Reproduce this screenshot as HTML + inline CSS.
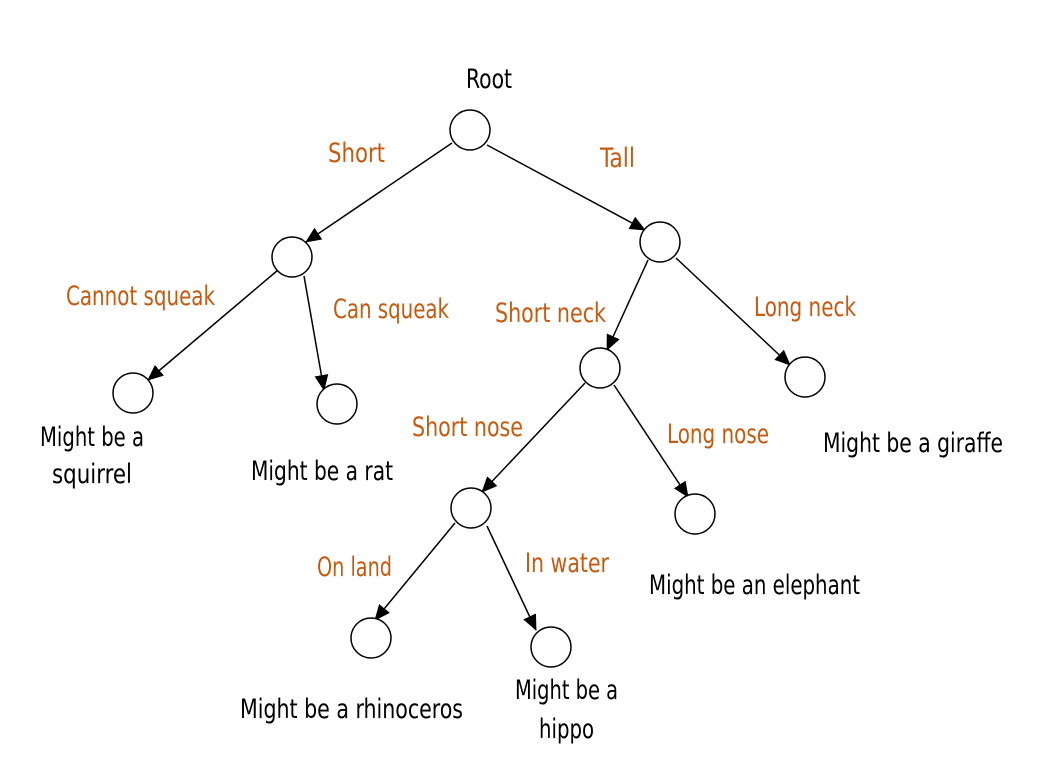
<!DOCTYPE html>
<html><head><meta charset="utf-8"><style>
html,body{margin:0;padding:0;background:#fff;}
svg{display:block;}
text{font-family:"Liberation Sans Narrow","DejaVu Sans Condensed","Liberation Sans",sans-serif;font-size:27px;}
.o{fill:#C55A11;}
.b{fill:#000;}
</style></head><body>
<svg width="1042" height="784" viewBox="0 0 1042 784" xmlns="http://www.w3.org/2000/svg">
<defs><marker id="a" markerWidth="10" markerHeight="10" refX="9" refY="5" orient="auto" markerUnits="userSpaceOnUse" viewBox="0 0 10 10"><path d="M0,0 L10,5 L0,10 z" fill="#000"/></marker>
<marker id="ah" markerWidth="16" markerHeight="14" refX="15" refY="7" orient="auto" markerUnits="userSpaceOnUse" viewBox="0 0 16 14"><path d="M0,0 L16,7 L0,14 z" fill="#000"/></marker></defs>
<g stroke="#000" stroke-width="1.5" fill="none">
<line x1="452" y1="143" x2="306" y2="242" marker-end="url(#ah)"/>
<line x1="487" y1="145" x2="645" y2="230" marker-end="url(#ah)"/>
<line x1="278" y1="270" x2="148" y2="380" marker-end="url(#ah)"/>
<line x1="304" y1="276" x2="324" y2="390" marker-end="url(#ah)"/>
<line x1="648" y1="260" x2="607" y2="350" marker-end="url(#ah)"/>
<line x1="676" y1="258" x2="790" y2="365" marker-end="url(#ah)"/>
<line x1="585" y1="383" x2="482" y2="492" marker-end="url(#ah)"/>
<line x1="614" y1="385" x2="688" y2="497" marker-end="url(#ah)"/>
<line x1="455" y1="523" x2="375" y2="620" marker-end="url(#ah)"/>
<line x1="487" y1="526" x2="536" y2="630" marker-end="url(#ah)"/>
</g>
<g stroke="#000" stroke-width="1.5" fill="#fff">
<circle cx="470" cy="130" r="20"/><circle cx="292" cy="257" r="20"/><circle cx="660" cy="242" r="20"/>
<circle cx="133" cy="393" r="20"/><circle cx="337" cy="404" r="20"/><circle cx="600" cy="368" r="20"/>
<circle cx="805" cy="377" r="20"/><circle cx="471" cy="508" r="20"/><circle cx="695" cy="514" r="20"/>
<circle cx="371" cy="638" r="20"/><circle cx="551" cy="647" r="20"/>
</g>
<text class="b" x="466" y="88" textLength="46" lengthAdjust="spacingAndGlyphs">Root</text>
<text class="o" x="328" y="162" textLength="57" lengthAdjust="spacingAndGlyphs">Short</text>
<text class="o" x="600" y="167" textLength="35" lengthAdjust="spacingAndGlyphs">Tall</text>
<text class="o" x="66" y="305" textLength="149" lengthAdjust="spacingAndGlyphs">Cannot squeak</text>
<text class="o" x="333" y="318" textLength="116" lengthAdjust="spacingAndGlyphs">Can squeak</text>
<text class="o" x="495" y="322" textLength="111" lengthAdjust="spacingAndGlyphs">Short neck</text>
<text class="o" x="754" y="316" textLength="102" lengthAdjust="spacingAndGlyphs">Long neck</text>
<text class="b" x="40" y="446" textLength="104" lengthAdjust="spacingAndGlyphs">Might be a</text>
<text class="b" x="52" y="483" textLength="80" lengthAdjust="spacingAndGlyphs">squirrel</text>
<text class="b" x="251" y="480" textLength="142" lengthAdjust="spacingAndGlyphs">Might be a rat</text>
<text class="o" x="412" y="436" textLength="111" lengthAdjust="spacingAndGlyphs">Short nose</text>
<text class="o" x="667" y="443" textLength="102" lengthAdjust="spacingAndGlyphs">Long nose</text>
<text class="b" x="823" y="452" textLength="180" lengthAdjust="spacingAndGlyphs">Might be a giraffe</text>
<text class="o" x="317" y="576" textLength="75" lengthAdjust="spacingAndGlyphs">On land</text>
<text class="o" x="525" y="572" textLength="84" lengthAdjust="spacingAndGlyphs">In water</text>
<text class="b" x="649" y="594" textLength="211" lengthAdjust="spacingAndGlyphs">Might be an elephant</text>
<text class="b" x="240" y="718" textLength="223" lengthAdjust="spacingAndGlyphs">Might be a rhinoceros</text>
<text class="b" x="515" y="699" textLength="103" lengthAdjust="spacingAndGlyphs">Might be a</text>
<text class="b" x="539" y="738" textLength="55" lengthAdjust="spacingAndGlyphs">hippo</text>
</svg>
</body></html>
